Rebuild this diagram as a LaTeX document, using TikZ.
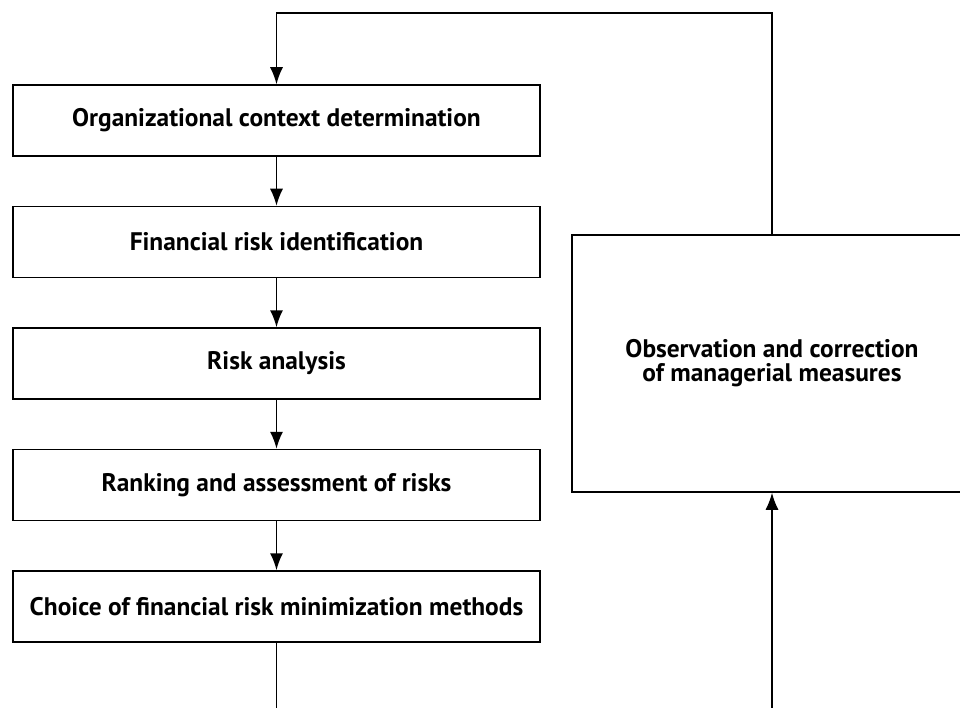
\documentclass[tikz,border=0pt]{standalone}
\usepackage{fontspec}
\setmainfont{PT Sans}
\usetikzlibrary{arrows.meta}

\tikzset{
  stagebox/.style={draw, line width=1.5pt, minimum width=527pt, minimum height=71pt, inner sep=0pt, font=\fontsize{25.4}{24}\selectfont\bfseries},
  flow/.style={line width=1.5pt, -{Latex[length=17pt,width=13pt]}},
}

\begin{document}
\begin{tikzpicture}[x=1pt, y=-1pt]
\useasboundingbox (0,0) rectangle (960,708);
\clip (0,0) rectangle (960,708);

\node[stagebox] (ctx)  at (276.5,120.5) {Organizational context determination};
\node[stagebox] (ident) at (276.5,242) {Financial risk identification};
\node[stagebox] (anal) at (276.5,363.5) {Risk analysis};
\node[stagebox] (rank) at (276.5,485) {Ranking and assessment of risks};
\node[stagebox] (choice) at (276.5,606.5) {Choice of financial risk minimization methods};

\draw[flow] (ctx) -- (ident);
\draw[flow] (ident) -- (anal);
\draw[flow] (anal) -- (rank);
\draw[flow] (rank) -- (choice);

% right one
\node[stagebox, minimum width=400pt, minimum height=257pt, align=center] (observ) at (772,363.5) {Observation and correction\\of managerial measures};

\coordinate (topright) at (772,13);
\coordinate (topleft) at (276.5,13);
\coordinate (outleft) at (276.5,708);
\coordinate (outright) at (772,708);

\draw[flow] (observ.north) -- (topright) -- (topleft) -- (ctx.north);
\draw[line width=1.5pt] (choice.south) -- (outleft);
\draw[flow] (outright) -- (observ.south);

\end{tikzpicture}
\end{document}
